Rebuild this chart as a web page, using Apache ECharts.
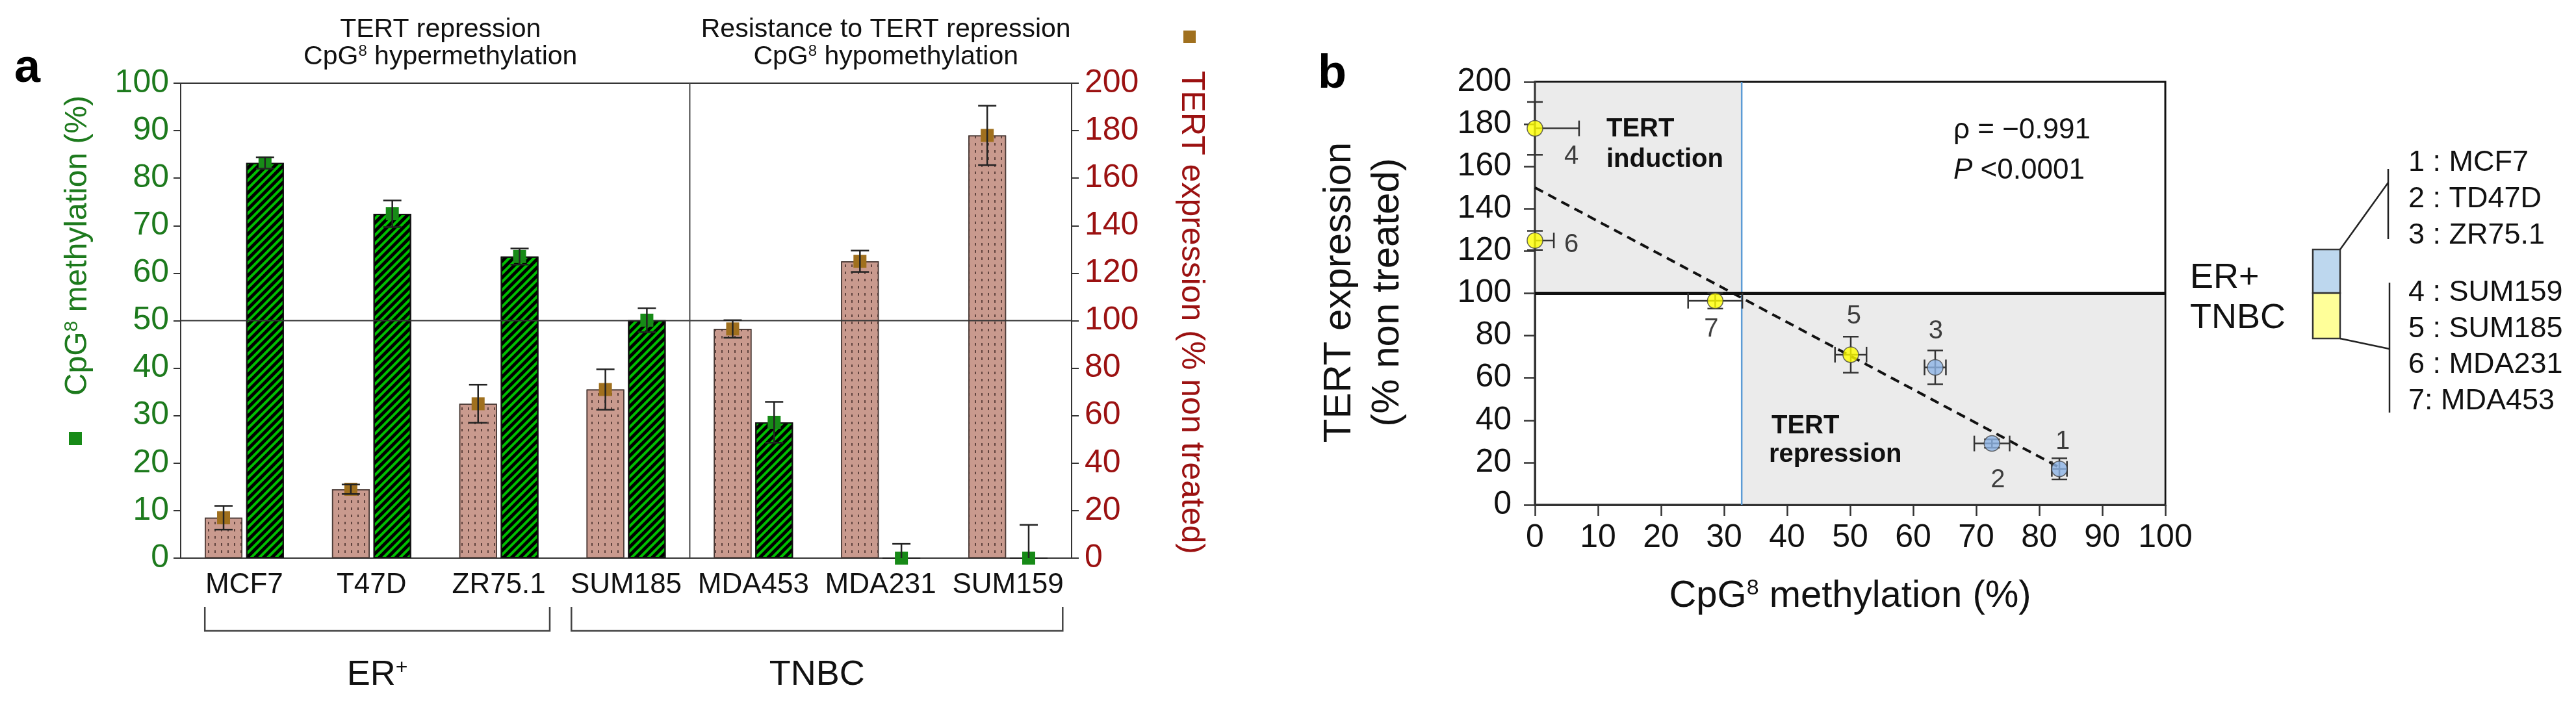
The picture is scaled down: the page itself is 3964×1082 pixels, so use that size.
<!DOCTYPE html>
<html><head><meta charset="utf-8">
<script src="https://cdn.jsdelivr.net/npm/echarts@6.0.0/dist/echarts.min.js"></script>
<style>html,body{margin:0;padding:0;background:#fff}#c{width:3964px;height:1082px}</style>
</head><body><div id="c"></div>
<script>
// ---------------- data ----------------
const cellLines   = ['MCF7','T47D','ZR75.1','SUM185','MDA453','MDA231','SUM159'];
const tertExpr    = [17, 29, 65, 71, 96.5, 125, 178];      // TERT expression (% non treated)
const tertErr     = [5, 2, 8, 8.5, 3.7, 4.5, 12.5];
const methyl      = [83.2, 72.5, 63.5, 50.1, 28.6, 0, 0];  // CpG8 methylation (%)
const methylErr   = [1.2, 2.8, 1.7, 2.5, 4.3, 3.0, 7.0];
const subtype     = ['ER+','ER+','ER+','TNBC','TNBC','TNBC','TNBC'];
const pointId     = [1, 2, 3, 5, 7, 6, 4];
const legendLines = ['1 : MCF7','2 : TD47D','3 : ZR75.1','4 : SUM159','5 : SUM185','6 : MDA231','7: MDA453'];
const regLine     = [[0, 150], [83, 18]];
const methylThreshold = 32.8;
const tertThreshold   = 100;
const methylAxis = {min: 0, max: 100, interval: 10};
const tertAxis   = {min: 0, max: 200, interval: 20};
const headers = [
  {l1: 'TERT repression', l2: ' hypermethylation', from: 0, to: 3},
  {l1: 'Resistance to TERT repression', l2: ' hypomethylation', from: 4, to: 6}
];
const brackets = [
  {label: 'ER', sup: '+', from: 0, to: 2, padL: 0.31, padR: 0.40},
  {label: 'TNBC', sup: '', from: 3, to: 6, padL: 0.43, padR: 0.43}
];
const rhoText = '\u03c1 = \u22120.991';
const pText = '<0.0001';

// ---------------- style ----------------
const FONT = '"Liberation Sans", Arial, sans-serif';
const GREEN_T = '#1d7a1d', RED_T = '#9b1111';
const BROWN_BAR = '#c99a8e', GREEN_BAR = '#00c000';
const BROWN_MK = '#a0701e', GREEN_MK = '#178a17';
const BLUE_PT = '#8db4e6', YELLOW_PT = '#ffff00';
const A = {left: 278, top: 128, width: 1371, height: 731};
const B = {left: 2362, top: 126, width: 970, height: 651};
const BAR_W = 58, BAR_GAP = 0.1;
const OFF = (BAR_W * 2 + BAR_W * BAR_GAP) / 2 - BAR_W / 2;
// label offsets (px) for the numbered points, in cellLines order
const labelOffsets = [[5,-42],[9,56],[1,-55],[5,-59],[-6,44],[56,7],[56,43]];

const chart = echarts.init(document.getElementById('c'), null, {width: 3964, height: 1082});

function barErr(offset, markColor) {
  return function (params, api) {
    const i = api.value(0), v = api.value(1), e = api.value(2);
    const c = api.coord([i, v]);
    const x = c[0] + offset;
    const yHi = api.coord([i, v + e])[1];
    const yLo = api.coord([i, Math.max(0, v - e)])[1];
    const st = {stroke: '#222', lineWidth: 2.5};
    const ch = [
      {type: 'rect', shape: {x: x - 10, y: c[1] - 10, width: 20, height: 20}, style: {fill: markColor}},
      {type: 'line', shape: {x1: x, y1: yHi, x2: x, y2: yLo}, style: st},
      {type: 'line', shape: {x1: x - 14, y1: yHi, x2: x + 14, y2: yHi}, style: st}
    ];
    if (v - e > 0) ch.push({type: 'line', shape: {x1: x - 14, y1: yLo, x2: x + 14, y2: yLo}, style: st});
    return {type: 'group', children: ch};
  };
}

const option = {
  animation: false,
  backgroundColor: '#fff',
  textStyle: {fontFamily: FONT},
  grid: [
    {left: A.left, top: A.top, width: A.width, height: A.height, show: true, borderColor: '#333', borderWidth: 2},
    {left: B.left, top: B.top, width: B.width, height: B.height, show: true, borderColor: '#111', borderWidth: 3}
  ],
  xAxis: [
    {type: 'category', gridIndex: 0, data: cellLines,
     axisLine: {lineStyle: {color: '#333', width: 2}},
     axisTick: {alignWithLabel: true, length: 12, lineStyle: {color: '#333', width: 2}},
     axisLabel: {fontSize: 44, color: '#111', margin: 20, interval: 0, fontFamily: FONT}},
    {type: 'value', gridIndex: 1, min: methylAxis.min, max: methylAxis.max, interval: methylAxis.interval,
     splitLine: {show: false},
     axisLine: {onZero: false, lineStyle: {color: '#333', width: 3}},
     axisTick: {show: true, length: 17, lineStyle: {color: '#333', width: 2.5}},
     axisLabel: {fontSize: 50, color: '#111', margin: 26, fontFamily: FONT}}
  ],
  yAxis: [
    {type: 'value', gridIndex: 0, position: 'left', min: methylAxis.min, max: methylAxis.max, interval: methylAxis.interval,
     splitLine: {show: false},
     axisLine: {show: true, lineStyle: {color: '#333', width: 2}},
     axisTick: {show: true, length: 11, lineStyle: {color: '#333', width: 2}},
     axisLabel: {fontSize: 50, color: GREEN_T, margin: 18, fontFamily: FONT}},
    {type: 'value', gridIndex: 0, position: 'right', min: tertAxis.min, max: tertAxis.max, interval: tertAxis.interval,
     splitLine: {show: false},
     axisLine: {show: true, lineStyle: {color: '#333', width: 2}},
     axisTick: {show: true, length: 11, lineStyle: {color: '#333', width: 2}},
     axisLabel: {fontSize: 50, color: RED_T, margin: 20, fontFamily: FONT}},
    {type: 'value', gridIndex: 1, min: tertAxis.min, max: tertAxis.max, interval: tertAxis.interval,
     splitLine: {show: false},
     axisLine: {show: true, onZero: false, lineStyle: {color: '#333', width: 3}},
     axisTick: {show: true, length: 17, lineStyle: {color: '#333', width: 2.5}},
     axisLabel: {fontSize: 50, color: '#111', margin: 36, fontFamily: FONT}}
  ],
  series: [
    {type: 'bar', name: 'TERT expression', xAxisIndex: 0, yAxisIndex: 1, data: tertExpr,
     barWidth: BAR_W, barGap: (BAR_GAP * 100) + '%', z: 2,
     itemStyle: {color: BROWN_BAR, borderColor: '#4a3a36', borderWidth: 1.5,
       decal: {symbol: 'rect', symbolSize: 1, dashArrayX: [2, 8], dashArrayY: [4, 7], color: 'rgba(40,20,20,0.65)'}}},
    {type: 'bar', name: 'CpG8 methylation', xAxisIndex: 0, yAxisIndex: 0, data: methyl,
     barWidth: BAR_W, barGap: (BAR_GAP * 100) + '%', z: 2,
     itemStyle: {color: GREEN_BAR, borderColor: '#111', borderWidth: 2,
       decal: {symbol: 'rect', symbolSize: 1, dashArrayX: [1, 0], dashArrayY: [4.2, 3.4], rotation: -Math.PI / 4, color: '#000'}}},
    // reference lines of panel a (50 % line, group divider)
    {type: 'custom', xAxisIndex: 0, yAxisIndex: 0, z: 3, data: [[3, 50]], silent: true,
     renderItem: function (params, api) {
       const cs = params.coordSys;
       const band = api.size([1, 0])[0];
       const xd = api.coord([api.value(0), 0])[0] + band / 2;
       const y50 = api.coord([0, api.value(1)])[1];
       return {type: 'group', children: [
         {type: 'line', shape: {x1: cs.x, y1: y50, x2: cs.x + cs.width, y2: y50}, style: {stroke: '#333', lineWidth: 2}},
         {type: 'line', shape: {x1: xd, y1: cs.y, x2: xd, y2: cs.y + cs.height}, style: {stroke: '#444', lineWidth: 2}}
       ]};
     }},
    {type: 'custom', xAxisIndex: 0, yAxisIndex: 1, z: 4, silent: true,
     data: tertExpr.map((v, i) => [i, v, tertErr[i]]), renderItem: barErr(-OFF, BROWN_MK)},
    {type: 'custom', xAxisIndex: 0, yAxisIndex: 0, z: 4, silent: true,
     data: methyl.map((v, i) => [i, v, methylErr[i]]), renderItem: barErr(OFF, GREEN_MK)},
    // headers above panel a
    {type: 'custom', xAxisIndex: 0, yAxisIndex: 0, z: 4, silent: true,
     data: headers.map(h => [h.from, h.to]),
     renderItem: function (params, api) {
       const h = headers[params.dataIndex];
       const band = api.size([1, 0])[0];
       const cs = params.coordSys;
       const xa = Math.max(cs.x, api.coord([h.from, 0])[0] - band / 2);
       const xb = Math.min(cs.x + cs.width, api.coord([h.to, 0])[0] + band / 2);
       const xc = (xa + xb) / 2 + 8;
       return {type: 'group', children: [
         {type: 'text', x: xc, y: cs.y - 82, style: {text: h.l1, fontSize: 41, fill: '#111', fontFamily: FONT, align: 'center', verticalAlign: 'middle'}},
         {type: 'text', x: xc, y: cs.y - 40, style: {text: 'CpG{sup|8}' + h.l2, fontSize: 41, fill: '#111', fontFamily: FONT, align: 'center', verticalAlign: 'middle',
           rich: {sup: {fontSize: 24, verticalAlign: 'top', fontFamily: FONT, fill: '#111', padding: [0, 0, 14, 0]}}}}
       ]};
     }},
    // group brackets under panel a
    {type: 'custom', xAxisIndex: 0, yAxisIndex: 0, z: 4, silent: true,
     data: brackets.map(b => [b.from, b.to]),
     renderItem: function (params, api) {
       const b = brackets[params.dataIndex];
       const band = api.size([1, 0])[0];
       const x0 = api.coord([b.from, 0])[0] - band * b.padL;
       const x1 = api.coord([b.to, 0])[0] + band * b.padR;
       const y0 = api.coord([0, 0])[1];
       return {type: 'group', children: [
         {type: 'polyline', shape: {points: [[x0, y0 + 75], [x0, y0 + 112], [x1, y0 + 112], [x1, y0 + 75]]},
          style: {stroke: '#444', lineWidth: 2.5, fill: null}},
         {type: 'text', x: (x0 + x1) / 2, y: y0 + 180, style: {text: b.sup ? b.label + '{sup|' + b.sup + '}' : b.label,
           fontSize: 54, fill: '#111', fontFamily: FONT, align: 'center', verticalAlign: 'middle',
           rich: {sup: {fontSize: 32, verticalAlign: 'top', fontFamily: FONT, fill: '#111', padding: [0, 0, 20, 0]}}}}
       ]};
     }},
    // panel b: quadrant shading and threshold lines
    {type: 'custom', xAxisIndex: 1, yAxisIndex: 2, z: 1, silent: true,
     data: [[methylThreshold, tertThreshold]],
     renderItem: function (params, api) {
       const cs = params.coordSys;
       const tx = api.coord([api.value(0), 0])[0];
       const ty = api.coord([0, api.value(1)])[1];
       const x0 = cs.x + 1.5, x1 = cs.x + cs.width - 1.5, y0 = cs.y + 1.5, y1 = cs.y + cs.height - 1.5;
       return {type: 'group', children: [
         {type: 'rect', shape: {x: x0, y: y0, width: tx - x0, height: ty - y0}, style: {fill: '#ebebeb'}},
         {type: 'rect', shape: {x: tx, y: ty, width: x1 - tx, height: y1 - ty}, style: {fill: '#ebebeb'}},
         {type: 'line', shape: {x1: tx, y1: cs.y, x2: tx, y2: cs.y + cs.height}, style: {stroke: '#5b9bd5', lineWidth: 2.5}},
         {type: 'line', shape: {x1: cs.x, y1: ty, x2: cs.x + cs.width, y2: ty}, style: {stroke: '#111', lineWidth: 5}}
       ]};
     }},
    {type: 'line', xAxisIndex: 1, yAxisIndex: 2, z: 3, data: regLine, symbol: 'none', silent: true,
     lineStyle: {color: '#111', width: 4, type: [14, 9]}},
    // panel b error bars
    {type: 'custom', xAxisIndex: 1, yAxisIndex: 2, z: 4, silent: true,
     data: cellLines.map((n, i) => [methyl[i], tertExpr[i], methylErr[i], tertErr[i]]),
     renderItem: function (params, api) {
       const x = api.value(0), y = api.value(1), ex = api.value(2), ey = api.value(3);
       const c = api.coord([x, y]);
       const xl = api.coord([Math.max(0, x - ex), y])[0], xr = api.coord([x + ex, y])[0];
       const yt = api.coord([x, y + ey])[1], yb = api.coord([x, Math.max(0, y - ey)])[1];
       const st = {stroke: '#333', lineWidth: 2.5};
       const ch = [
         {type: 'line', shape: {x1: xl, y1: c[1], x2: xr, y2: c[1]}, style: st},
         {type: 'line', shape: {x1: xr, y1: c[1] - 12, x2: xr, y2: c[1] + 12}, style: st},
         {type: 'line', shape: {x1: c[0], y1: yt, x2: c[0], y2: yb}, style: st},
         {type: 'line', shape: {x1: c[0] - 12, y1: yt, x2: c[0] + 12, y2: yt}, style: st},
         {type: 'line', shape: {x1: c[0] - 12, y1: yb, x2: c[0] + 12, y2: yb}, style: st}
       ];
       if (x - ex > 0) ch.push({type: 'line', shape: {x1: xl, y1: c[1] - 12, x2: xl, y2: c[1] + 12}, style: st});
       return {type: 'group', children: ch};
     }},
    {type: 'scatter', xAxisIndex: 1, yAxisIndex: 2, z: 5, symbol: 'circle', symbolSize: 24, clip: false,
     data: cellLines.map((n, i) => ({value: [methyl[i], tertExpr[i]],
       itemStyle: {color: subtype[i] === 'ER+' ? BLUE_PT : YELLOW_PT},
       label: {offset: labelOffsets[i]}})),
     itemStyle: {borderColor: '#444', borderWidth: 1.5},
     label: {show: true, position: 'inside', fontSize: 40, color: '#111', fontFamily: FONT,
       formatter: p => String(pointId[p.dataIndex])}}
  ],
  graphic: [
    {type: 'text', x: 22, y: 106, style: {text: 'a', fontSize: 72, fontWeight: 'bold', fill: '#000', fontFamily: FONT, verticalAlign: 'middle'}},
    {type: 'text', x: 2028, y: 115, style: {text: 'b', fontSize: 72, fontWeight: 'bold', fill: '#000', fontFamily: FONT, verticalAlign: 'middle'}},
    // left axis title of panel a
    {type: 'rect', shape: {x: 106, y: 665, width: 20, height: 20}, style: {fill: GREEN_MK}},
    {type: 'text', x: 120, y: 378, rotation: Math.PI / 2,
     style: {text: 'CpG{sup|8} methylation (%)', fontSize: 48, fill: GREEN_T, fontFamily: FONT, align: 'center', verticalAlign: 'middle',
       rich: {sup: {fontSize: 30, verticalAlign: 'top', fill: GREEN_T, fontFamily: FONT, padding: [0, 0, 18, 0]}}}},
    // right axis title of panel a
    {type: 'rect', shape: {x: 1821, y: 47, width: 19, height: 19}, style: {fill: BROWN_MK}},
    {type: 'text', x: 1833, y: 481, rotation: -Math.PI / 2,
     style: {text: 'TERT expression (% non treated)', fontSize: 50, fill: RED_T, fontFamily: FONT, align: 'center', verticalAlign: 'middle'}},
    // panel b axis titles
    {type: 'text', x: 2098, y: 450, rotation: Math.PI / 2,
     style: {text: 'TERT expression\n(% non treated)', fontSize: 60, lineHeight: 74, fill: '#111', fontFamily: FONT, align: 'center', verticalAlign: 'middle'}},
    {type: 'text', x: 2847, y: 918,
     style: {text: 'CpG{sup|8} methylation (%)', fontSize: 58, fill: '#111', fontFamily: FONT, align: 'center', verticalAlign: 'middle',
       rich: {sup: {fontSize: 34, verticalAlign: 'top', fill: '#111', fontFamily: FONT, padding: [0, 0, 22, 0]}}}},
    // annotations in panel b
    {type: 'text', x: 2472, y: 199, z: 10, style: {text: 'TERT', fontSize: 40, fontWeight: 'bold', fill: '#111', fontFamily: FONT, verticalAlign: 'middle'}},
    {type: 'text', x: 2472, y: 246, z: 10, style: {text: 'induction', fontSize: 40, fontWeight: 'bold', fill: '#111', fontFamily: FONT, verticalAlign: 'middle'}},
    {type: 'text', x: 2726, y: 656, z: 10, style: {text: 'TERT', fontSize: 40, fontWeight: 'bold', fill: '#111', fontFamily: FONT, verticalAlign: 'middle'}},
    {type: 'text', x: 2722, y: 700, z: 10, style: {text: 'repression', fontSize: 40, fontWeight: 'bold', fill: '#111', fontFamily: FONT, verticalAlign: 'middle'}},
    {type: 'text', x: 3006, y: 201, z: 10, style: {text: rhoText, fontSize: 44, fill: '#111', fontFamily: FONT, verticalAlign: 'middle'}},
    {type: 'text', x: 3006, y: 263, z: 10, style: {text: '{it|P} ' + pText, fontSize: 44, fill: '#111', fontFamily: FONT, verticalAlign: 'middle',
      rich: {it: {fontStyle: 'italic', fontSize: 44, fill: '#111', fontFamily: FONT}}}},
    // right-hand key
    {type: 'text', x: 3370, y: 428, style: {text: 'ER+', fontSize: 54, fill: '#111', fontFamily: FONT, verticalAlign: 'middle'}},
    {type: 'text', x: 3370, y: 490, style: {text: 'TNBC', fontSize: 54, fill: '#111', fontFamily: FONT, verticalAlign: 'middle'}},
    {type: 'rect', shape: {x: 3559, y: 384, width: 42, height: 67}, style: {fill: '#bdd7ee', stroke: '#333', lineWidth: 2.5}},
    {type: 'rect', shape: {x: 3559, y: 451, width: 42, height: 70}, style: {fill: '#ffff99', stroke: '#333', lineWidth: 2.5}},
    {type: 'polyline', shape: {points: [[3601, 384], [3675, 281]]}, style: {stroke: '#222', lineWidth: 2.5}},
    {type: 'line', shape: {x1: 3675, y1: 260, x2: 3675, y2: 368}, style: {stroke: '#222', lineWidth: 2.5}},
    {type: 'polyline', shape: {points: [[3601, 521], [3677, 537]]}, style: {stroke: '#222', lineWidth: 2.5}},
    {type: 'line', shape: {x1: 3677, y1: 435, x2: 3677, y2: 635}, style: {stroke: '#222', lineWidth: 2.5}}
  ].concat(legendLines.map((t, k) => ({type: 'text', x: 3706,
      y: k < 3 ? 251 + k * 56 : 451 + (k - 3) * 55.5,
      style: {text: t, fontSize: 45, fill: '#111', fontFamily: FONT, verticalAlign: 'middle'}})))
};
chart.setOption(option);
</script>
</body></html>
